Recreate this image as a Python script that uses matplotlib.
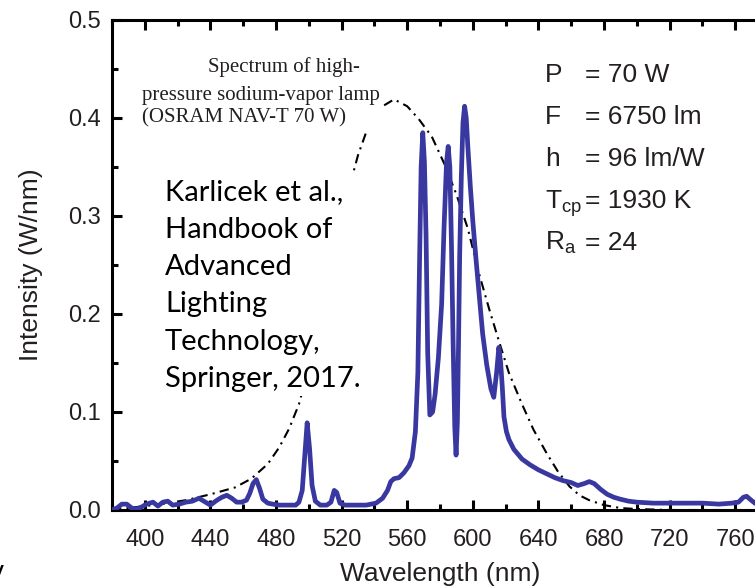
import matplotlib
matplotlib.use("Agg")
import matplotlib.pyplot as plt
from matplotlib.ticker import MultipleLocator

plt.rcParams['font.family'] = ['Liberation Sans', 'DejaVu Sans']
plt.rcParams['mathtext.fontset'] = 'custom'
plt.rcParams['mathtext.rm'] = 'Liberation Sans'

# measured spectrum of the lamp (blue)
wavelength = [380, 383, 386, 389, 392, 395, 398, 401, 405, 408, 411, 414, 417, 421,
              425, 429, 433, 437, 440, 444, 447, 450, 453, 456, 459, 462, 464, 466,
              468, 470, 472, 475, 478, 482, 487, 492, 494, 496, 497.5, 499, 500.5,
              502, 504, 507, 511, 513.5, 515.5, 517, 519, 522, 528, 535, 541, 545,
              548, 550, 552, 555, 558, 561, 563, 565, 566.5, 567.5, 568.5, 569.5,
              570.5, 571.5, 572.5, 573.8, 575.5, 577, 579, 581, 582.5, 584, 585, 586,
              587, 588, 589, 589.8, 590.6, 591.3, 592, 593, 594, 595, 596, 597, 598.5,
              600, 602, 604, 606, 608.5, 611, 612.8, 614.5, 615.9, 617, 618, 619,
              620.5, 622, 625, 630, 635, 640, 645, 650, 655, 660, 664, 668, 671, 674,
              678, 682, 686, 690, 695, 700, 710, 720, 730, 740, 750, 758, 762, 765,
              767, 769, 772, 775, 780]
intensity = [0.000, 0.002, 0.006, 0.006, 0.002, 0.001, 0.003, 0.006, 0.008, 0.004,
             0.008, 0.009, 0.005, 0.006, 0.008, 0.009, 0.012, 0.008, 0.005, 0.010,
             0.013, 0.015, 0.012, 0.008, 0.008, 0.010, 0.017, 0.027, 0.031, 0.022,
             0.011, 0.007, 0.006, 0.005, 0.005, 0.005, 0.008, 0.020, 0.055, 0.089,
             0.062, 0.025, 0.009, 0.005, 0.005, 0.008, 0.020, 0.018, 0.007, 0.005,
             0.005, 0.005, 0.007, 0.012, 0.020, 0.029, 0.032, 0.033, 0.038, 0.045,
             0.053, 0.080, 0.140, 0.250, 0.350, 0.385, 0.355, 0.280, 0.160, 0.097,
             0.100, 0.118, 0.155, 0.210, 0.290, 0.355, 0.371, 0.350, 0.270, 0.170,
             0.085, 0.056, 0.090, 0.170, 0.260, 0.340, 0.395, 0.412, 0.400, 0.370,
             0.330, 0.295, 0.255, 0.218, 0.180, 0.148, 0.124, 0.115, 0.140, 0.166,
             0.150, 0.125, 0.095, 0.080, 0.072, 0.062, 0.052, 0.046, 0.041, 0.037,
             0.033, 0.030, 0.028, 0.025, 0.027, 0.029, 0.027, 0.021, 0.016, 0.013,
             0.011, 0.009, 0.008, 0.007, 0.007, 0.007, 0.007, 0.006, 0.007, 0.008,
             0.013, 0.014, 0.011, 0.007, 0.005, 0.005]

# broad envelope (dash-dot)
env_wl = [380, 395, 410, 425, 440, 455, 465, 475, 482, 488, 494, 500, 510, 520, 530,
          537, 545, 552, 560, 567, 575, 583, 590, 597, 604, 610, 616, 622, 630, 637,
          645, 652, 659, 665, 671, 680, 690, 700, 720, 780]
env_val = [0.000, 0.003, 0.006, 0.010, 0.016, 0.023, 0.032, 0.047, 0.064, 0.083,
           0.108, 0.145, 0.225, 0.300, 0.362, 0.395, 0.412, 0.419, 0.412, 0.399,
           0.381, 0.352, 0.322, 0.287, 0.240, 0.205, 0.172, 0.140, 0.108, 0.082,
           0.058, 0.039, 0.024, 0.015, 0.010, 0.005, 0.002, 0.001, 0.000, 0.000]

params = ['P', 'F', 'h', r'T$_{\mathregular{cp}}$', r'R$_{\mathregular{a}}$']
param_vals = ['= 70 W', '= 6750 lm', '= 96 lm/W', '= 1930 K', '= 24']

W, H = 755, 587
fig = plt.figure(figsize=(W / 100, H / 100), dpi=100)
ax = fig.add_axes([112 / W, 1 - 510 / H, (768 - 112) / W, 490 / H])
ax.set_zorder(1)

ax.plot(env_wl, env_val, color='black', lw=1.5, dashes=(4.5, 2.5, 1, 2.5), zorder=2)
ax.plot(wavelength, intensity, color='#3838a0', lw=3.4, zorder=3,
        solid_capstyle='round', solid_joinstyle='round')

ax.set_xlim(380, 780)
ax.set_ylim(0, 0.5)
ax.xaxis.set_minor_locator(MultipleLocator(20))
ax.yaxis.set_major_locator(MultipleLocator(0.1))
ax.yaxis.set_minor_locator(MultipleLocator(0.05))
ax.set_xticks(range(400, 761, 40))
ax.tick_params(which='both', direction='in', top=True, right=True, width=2.2,
               colors='black', labelcolor='#231f20', labelsize=17)
ax.tick_params(which='major', length=7)
ax.tick_params(which='minor', length=4)
ax.tick_params(axis='x', pad=13.5)
ax.tick_params(axis='y', pad=8)
for s in ax.spines.values():
    s.set_linewidth(2.2)

ax.set_xlabel('Wavelength (nm)', fontsize=19, color='#231f20', labelpad=8)
ax.set_ylabel('Intensity (W/nm)', fontsize=19, color='#231f20', labelpad=18)

def px(x, y):
    # pixel position in the figure -> figure fraction
    return x / W, 1 - y / H

# serif caption (multi-line texts are anchored on their last baseline)
fig.text(*px(208, 72), 'Spectrum of high-', family='Liberation Serif', fontsize=15,
         color='#231f20', va='baseline', zorder=5)
fig.text(*px(142, 122), 'pressure sodium-vapor lamp\n(OSRAM NAV-T 70 W)',
         family='Liberation Serif', fontsize=15, color='#231f20', va='baseline',
         linespacing=1.2, zorder=5,
         bbox=dict(facecolor='white', edgecolor='none', pad=2))

# reference note
fig.text(*px(165, 387), 'Karlicek et al.,\nHandbook of\nAdvanced\nLighting\nTechnology,\nSpringer, 2017.',
         family=['Lato', 'DejaVu Sans'], fontsize=21, color='black', va='baseline',
         linespacing=1.54, zorder=5,
         bbox=dict(facecolor='white', edgecolor='none', pad=3))

# lamp parameters
for i, (p, v) in enumerate(zip(params, param_vals)):
    y = 82 + i * 42
    fig.text(*px(545, y), p, fontsize=19, color='#231f20', va='baseline', zorder=5)
    fig.text(*px(585, y), v, fontsize=19, color='#231f20', va='baseline', zorder=5)

fig.text(*px(-10, 580), 'y', fontsize=20, color='black', va='baseline')

fig.savefig('out.png', dpi=100)
